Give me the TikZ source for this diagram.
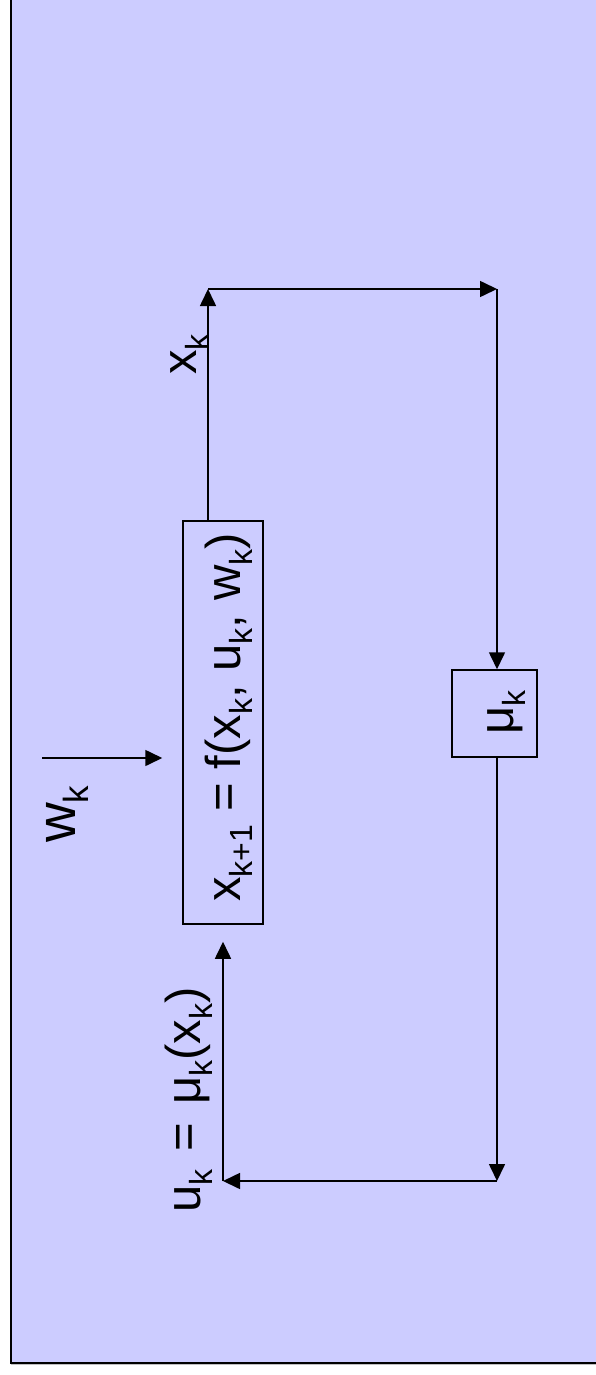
\documentclass[tikz,border=0pt]{standalone}
\usepackage{fontspec}
\setmainfont{Liberation Sans}
\usetikzlibrary{arrows.meta,calc}
\definecolor{bgc}{RGB}{204,204,255}
\newcommand\subk[1]{\raisebox{-12pt}{\fontsize{32}{32}\selectfont #1}}
\newcommand\subkb[1]{\raisebox{-13pt}{\fontsize{35}{35}\selectfont #1}}
\begin{document}
\begin{tikzpicture}[x=1pt,y=-1pt,
  conn/.style={line width=1.6pt},
  tip/.style={-{Triangle[length=17pt,width=16pt]}},
  box/.style={draw,line width=1.5pt,inner sep=0pt},
  lbl/.style={rotate=90,anchor=base west,inner sep=0pt,font=\fontsize{49}{58}\selectfont}]
\useasboundingbox (0,0) rectangle (595,1375);
\fill[white] (0,0) rectangle (595,1375);
\fill[bgc] (11,-10) rectangle (605,1362.5);
\draw[gray!50,line width=1.5pt] (11,1364.5) -- (605,1364.5);
\draw[line width=2pt] (11,-10) -- (11,1362.5) -- (605,1362.5);
% boxes
\node[box,minimum width=80pt,minimum height=403pt] (sys) at (223,722.5) {};
\node[box,minimum width=85pt,minimum height=87pt] (mu) at (494.5,713.5) {};
% texts
\node[lbl] (systxt) at (240,902) {x\subk{k+1} = f(x\subk{k}, u\subk{k}, w\subk{k})};
\node[lbl] (xk) at (196,375) {x\subk{k}};
\node[lbl,font=\fontsize{55}{66}\selectfont] (wk) at (75,843) {w\subkb{k}};
\node[lbl] (uk) at (200,1213) {u\subk{k}\hspace{18pt}=\hspace{18pt}μ\subk{k}(x\subk{k})};
\node[lbl] (muk) at (513,735) {μ\subk{k}};
% connectors
\coordinate (c1) at (208,289);
\coordinate (c2) at (497,289);
\coordinate (c3) at (497,1181);
\coordinate (c4) at (223,1181);
\coordinate (w0) at (42,758);
\draw[conn,tip] (sys.north -| c1) -- (c1);
\draw[conn,tip] (c1) -- (c2);
\draw[conn,tip] (c2) -- (mu.north -| c2);
\draw[conn,tip] (mu.south -| c2) -- (c3);
\draw[conn,tip] (c3) -- (c4);
\draw[conn,tip,shorten >=17pt] (c4) -- (sys.south -| c4);
\draw[conn,tip,shorten >=20pt] (w0) -- (sys.west |- w0);
\end{tikzpicture}
\end{document}
